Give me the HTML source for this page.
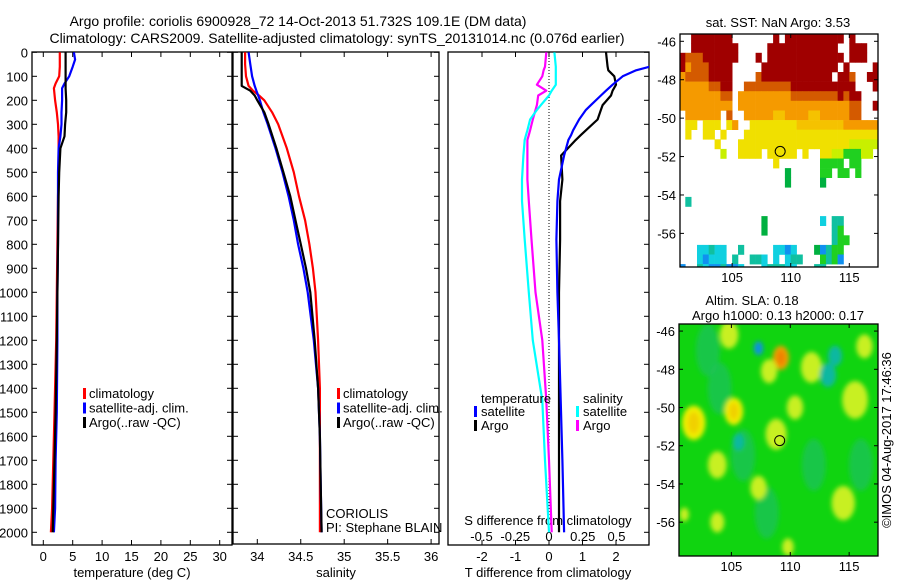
<!DOCTYPE html>
<html><head><meta charset="utf-8"><style>
body{margin:0;background:#fff}
svg{display:block;font-family:"Liberation Sans",sans-serif}
text{fill:#000}
</style></head><body>
<svg id="c" width="900" height="580" xmlns="http://www.w3.org/2000/svg">
<defs>
<clipPath id="cp1"><rect x="32" y="52" width="200" height="493"/></clipPath>
<clipPath id="cp2"><rect x="233" y="52" width="206" height="492"/></clipPath>
<clipPath id="cp3"><rect x="448" y="52" width="201" height="493"/></clipPath>
<clipPath id="cm1"><rect x="680" y="34" width="198" height="233"/></clipPath>
<clipPath id="cm2"><rect x="679" y="324" width="199" height="232"/></clipPath>
<filter id="blur" x="-20%" y="-20%" width="140%" height="140%"><feGaussianBlur stdDeviation="2.5"/></filter>
</defs>
<g font-size="14" text-anchor="middle">
<text x="298" y="26">Argo profile: coriolis 6900928_72 14-Oct-2013 51.732S 109.1E (DM data)</text>
<text x="337" y="43">Climatology: CARS2009. Satellite-adjusted climatology: synTS_20131014.nc (0.076d earlier)</text>
</g>
<g id="layer"></g>
</svg>
<script>
// ---------- data ----------
const depthT = [0,30,60,100,130,150,200,250,300,350,400,500,600,800,1000,1200,1500,1700,1900,2000];
const tempClim = [2.8,2.8,2.8,2.7,2.1,1.8,2.0,2.3,2.5,2.6,2.6,2.6,2.5,2.4,2.3,2.2,1.9,1.7,1.5,1.3];
const tempArgo = [3.8,3.8,3.8,3.8,3.8,3.8,3.9,3.9,3.7,3.6,2.9,2.7,2.6,2.5,2.4,2.3,2.1,1.9,1.7,1.6];
const tempSat  = [5.2,5.4,5.0,4.4,3.6,3.2,3.2,3.1,3.1,2.9,2.6,2.5,2.5,2.5,2.4,2.4,2.3,2.1,2.0,1.8];

const depthS = [0,50,100,140,160,180,200,250,300,400,500,600,700,800,900,1000,1200,1400,1600,1800,2000];
const salClim = [33.86,33.86,33.87,33.9,33.95,34.02,34.08,34.17,34.24,34.34,34.42,34.48,34.55,34.6,34.64,34.67,34.7,34.72,34.72,34.72,34.72];
const salArgo = [33.82,33.82,33.82,33.82,33.92,33.97,34.0,34.08,34.13,34.22,34.3,34.38,34.44,34.5,34.56,34.61,34.66,34.7,34.72,34.73,34.74];
const salSat  = [33.9,33.92,33.94,33.97,33.99,34.01,34.03,34.07,34.12,34.21,34.29,34.36,34.42,34.47,34.53,34.58,34.65,34.7,34.72,34.73,34.74];

const depthD = [0,60,75,100,135,160,180,220,240,280,325,345,365,430,530,620,780,1000,1200,1450,1700,2000];
const dTSat  = [3.4,3.0,2.6,2.2,1.9,1.7,1.55,1.25,1.1,0.9,0.72,0.66,0.58,0.45,0.3,0.25,0.22,0.25,0.3,0.35,0.4,0.45];
const dTArgo = [1.7,1.75,1.77,1.95,2.0,1.9,1.85,1.6,1.55,1.45,1.1,0.95,0.8,0.36,0.4,0.33,0.33,0.3,0.3,0.3,0.3,0.3];
const dSSat  = [0.04,0.05,0.05,0.05,0.05,0.02,0.0,-0.06,-0.09,-0.14,-0.16,-0.17,-0.18,-0.19,-0.2,-0.2,-0.18,-0.15,-0.12,-0.05,-0.03,0.0];
const dSArgo = [-0.02,-0.03,-0.04,-0.05,-0.09,-0.02,-0.08,-0.09,-0.1,-0.12,-0.14,-0.15,-0.16,-0.16,-0.16,-0.15,-0.13,-0.1,-0.05,-0.02,0.0,0.02];

const depthTicks = [0,100,200,300,400,500,600,700,800,900,1000,1100,1200,1300,1400,1500,1600,1700,1800,1900,2000];
const tempTicks = [0,5,10,15,20,25,30];
const salTicks = ["34","34.5","35","35.5","36"];
const dTTicks = [-2,-1,0,1,2];
const dSTicks = ["-0.5","-0.25","0","0.25","0.5"];

const lonTicks = [105,110,115];
const latTicks = [-46,-48,-50,-52,-54,-56];
// SST grid: 0.5 deg cells from lon 100.5, lat -45.6 downward
const sstRows = [
"..RRRRRRR.......R.RRRRRRRRRR.R....",
"..RRRRRRRR.....RRRRRRRRRRRR..RRR..",
"RoooRRRRRR...R.RRRRRRRRRRRRR.RRR..",
"ROoooRRRR.....RRRRRRRRRRRRR.R....R",
"OooooRRRR....oRRRRRRRRRRRR.RRo..RR",
"OOOOOooRR..ooooooooRRRRRRRRRRR...R",
"OOOOOOOoo.OOOOOOOOOooooooooRoRR...",
"OOOOOOOOO.OOOOOOOOOOOOOOOOOOOoo..R",
".OOOOOO.o..OOOOOyyOOOOyyOOOOOoo...",
".YY.YYY.YO..YYYYYYYYyyyyyyyyOOOOOO",
".Y..YY.Y...YYYYYYYYYYYYYYYYYYYYYYY",
"......Y...YYYYYYYYYYYYYYYYYYYllllll",
".......l..YYYY.YYYYY.Y..YYllgggll.",
"................Y.......gggg.gg...",
"..................G.....gg.gg.g...",
"..................G.....G.........",
"..................................",
".t................................",
"..................................",
"..............G.........c.tt......",
"..............G...........tg......",
"..........................tgg.....",
"...cctcc..t.....ccbc...Gbtgg......",
"...cbccc.t..ttc.c.ctt...gtgb......",
"b..tcbbtbbc...ctttcc...tt........."
];
const sstColors = {R:"#a00000",o:"#d45a00",O:"#f59a00",y:"#f5c200",Y:"#f0e000",l:"#c8f000",g:"#20d020",G:"#00b040",c:"#10d0e0",b:"#1090f0",t:"#10c0a0"};
// SLA blobs: lon, lat, radius(deg), level
const slaLon = [104.8,101.8,105.2,109.2,108.2,111.8,116.3,115.5,103.8,108.8,114.5,103.8,101,110.4,113.2,107.3,107.3,113.8,105.6,109.8];
const slaLat = [-46.2,-50.8,-50.2,-47.4,-48.1,-47.9,-46.8,-49.6,-53.0,-51.4,-55.0,-56.0,-55.6,-50.0,-48.3,-54.2,-46.9,-47.3,-51.8,-57.3];
const slaR   = [0.8,1.0,0.8,0.7,0.7,0.9,0.7,1.1,0.8,0.9,1.0,0.6,0.4,0.7,0.7,0.7,0.4,0.6,0.5,0.5];
const slaLev = [1,2,2,3,1,1,1,1,1,1,1,1,1,1,-1,1,-2,-1,-1,1];

// ---------- helpers ----------
const NS="http://www.w3.org/2000/svg";
const L=document.getElementById('layer');
function mk(tag,attrs,parent){const e=document.createElementNS(NS,tag);for(const k in attrs)e.setAttribute(k,attrs[k]);(parent||L).appendChild(e);return e;}
function txt(x,y,s,anchor,size,parent){const t=mk('text',{x:x,y:y,'text-anchor':anchor||'middle','font-size':size||13},parent);t.textContent=s;return t;}
const yD=d=>52.3+d*0.24;
const xT=v=>43.3+v*5.88;
const xS=v=>257.3+(v-34)*86.9;
const xDT=v=>549+v*33.5;
const xDS=v=>549+v*135;

function frame(x0,y0,x1,y1,name){const r=mk('rect',{x:x0,y:y0,width:x1-x0,height:y1-y0,fill:'none',stroke:'#000','stroke-width':1.3});

}
function prof(ds,vs,xf,color,w,clip,name){
 let d='';for(let i=0;i<ds.length;i++){d+=(i?'L':'M')+xf(vs[i]).toFixed(1)+','+yD(ds[i]).toFixed(1);}
 const p=mk('path',{d:d,fill:'none',stroke:color,'stroke-width':w,'clip-path':'url(#'+clip+')','stroke-linejoin':'round'});
 
 }

// ---------- panel 1 ----------
frame(32,52,232,545,'temperature-axes');
depthTicks.forEach(d=>{const y=yD(d);mk('line',{x1:32,y1:y,x2:37,y2:y,stroke:'#000'});mk('line',{x1:227,y1:y,x2:232,y2:y,stroke:'#000'});
 const t=txt(28,y+5,String(d),'end',13);
 
 });
tempTicks.forEach(v=>{const x=xT(v);mk('line',{x1:x,y1:545,x2:x,y2:540,stroke:'#000'});mk('line',{x1:x,y1:52,x2:x,y2:57,stroke:'#000'});
 const t=txt(x,561,String(v));
 
 });
{const t=txt(132,577,'temperature (deg C)');}
prof(depthT,tempClim,xT,'#ff0000',2.2,'cp1','temp-climatology-line');
prof(depthT,tempSat,xT,'#0000ff',2.2,'cp1','temp-satellite-line');
prof(depthT,tempArgo,xT,'#000000',2.2,'cp1','temp-argo-line');
function legend3(x,y0,name){
 const g=mk('g',{});
 [['#ff0000','climatology'],['#0000ff','satellite-adj. clim.'],['#000000','Argo(..raw -QC)']].forEach((e,i)=>{
  mk('rect',{x:x,y:y0+i*14.5-11,width:3,height:11,fill:e[0]},g);
  txt(x+6,y0+i*14.5-1,e[1],'start',13,g);});}
legend3(83,399,'temperature-legend');

// ---------- panel 2 ----------
frame(233,52,439,544,'salinity-axes');
depthTicks.forEach(d=>{const y=yD(d);mk('line',{x1:233,y1:y,x2:238,y2:y,stroke:'#000'});mk('line',{x1:434,y1:y,x2:439,y2:y,stroke:'#000'});});
salTicks.forEach(s=>{const x=xS(parseFloat(s));mk('line',{x1:x,y1:544,x2:x,y2:539,stroke:'#000'});mk('line',{x1:x,y1:52,x2:x,y2:57,stroke:'#000'});
 const t=txt(x,561,s);});
{const t=txt(336,577,'salinity');}
prof(depthS,salClim,xS,'#ff0000',2.2,'cp2','sal-climatology-line');
prof(depthS,salSat,xS,'#0000ff',2.2,'cp2','sal-satellite-line');
prof(depthS,salArgo,xS,'#000000',2.2,'cp2','sal-argo-line');
legend3(337,399,'salinity-legend');
{const t=txt(326,518,'CORIOLIS','start');
 const u=txt(326,532,'PI: Stephane BLAIN','start');}

// ---------- panel 3 ----------
frame(448,52,649,545,'difference-axes');
depthTicks.forEach(d=>{const y=yD(d);mk('line',{x1:644,y1:y,x2:649,y2:y,stroke:'#000'});});
mk('line',{x1:549,y1:52,x2:549,y2:520,stroke:'#000','stroke-dasharray':'1,2'});
dTTicks.forEach(v=>{const x=xDT(v);mk('line',{x1:x,y1:545,x2:x,y2:540,stroke:'#000'});mk('line',{x1:x,y1:52,x2:x,y2:57,stroke:'#000'});
 const t=txt(x,561,String(v));});
dSTicks.forEach(s=>{const t=txt(xDS(parseFloat(s)),541,s);});
{const t=txt(548,525,'S difference from climatology');
 const u=txt(548,577,'T difference from climatology');}
prof(depthD,dSArgo,xDS,'#ff00ff',2.2,'cp3','s-diff-argo-line');
prof(depthD,dSSat,xDS,'#00ffff',2.2,'cp3','s-diff-satellite-line');
prof(depthD,dTArgo,xDT,'#000000',2.2,'cp3','t-diff-argo-line');
prof(depthD,dTSat,xDT,'#0000ff',2.2,'cp3','t-diff-satellite-line');
{const g=mk('g',{});
 txt(481,403,'temperature','start',13,g);txt(583,403,'salinity','start',13,g);
 [['#0000ff','satellite',474,417],['#000000','Argo',474,431],['#00ffff','satellite',576,417],['#ff00ff','Argo',576,431]].forEach(e=>{
  mk('rect',{x:e[2],y:e[3]-11,width:3,height:11,fill:e[0]},g);txt(e[2]+7,e[3]-1,e[1],'start',13,g);});}

// ---------- map helpers ----------
function mapAxes(x0,y0,x1,y1,lon0,lon1,lat0,lat1,name){
 const fx=l=>x0+(l-lon0)/(lon1-lon0)*(x1-x0), fy=l=>y0+(lat0-l)/(lat0-lat1)*(y1-y0);
 return {fx,fy,draw(){
  frame(x0,y0,x1,y1,name);
  latTicks.forEach(v=>{const y=fy(v);mk('line',{x1:x0,y1:y,x2:x0+4,y2:y,stroke:'#000'});mk('line',{x1:x1-4,y1:y,x2:x1,y2:y,stroke:'#000'});
   const t=txt(x0-4,y+5,String(v),'end');});
  lonTicks.forEach(v=>{const x=fx(v);mk('line',{x1:x,y1:y1,x2:x,y2:y1-4,stroke:'#000'});mk('line',{x1:x,y1:y0,x2:x,y2:y0+4,stroke:'#000'});
   const t=txt(x,y1+15,String(v));});
 }};}

// ---------- SST map ----------
const m1=mapAxes(680,34,878,267,100.55,117.45,-45.62,-57.75,'sst-map-frame');
{const g=mk('g',{'clip-path':'url(#cm1)'});
 sstRows.forEach((row,r)=>{for(let c=0;c<row.length;c++){const ch=row[c];if(ch==='.')continue;
  const lonA=100.5+c*0.5,latA=-45.6-r*0.5;const x=m1.fx(lonA),y=m1.fy(latA);
  const cell=mk('rect',{x:x.toFixed(1),y:y.toFixed(1),width:(m1.fx(lonA+0.5)-x+0.3).toFixed(1),height:(m1.fy(latA-0.5)-y+0.3).toFixed(1),fill:sstColors[ch]},g);
  
  }});}
m1.draw();
mk('circle',{cx:m1.fx(109.1),cy:m1.fy(-51.732),r:5,fill:'#f0e000',stroke:'#000','stroke-width':1});
{const t=txt(778,27,'sat. SST: NaN Argo: 3.53');}

// ---------- SLA map ----------
const m2=mapAxes(679,324,878,556,100.55,117.45,-45.63,-57.77,'sla-map-frame');
{const g=mk('g',{'clip-path':'url(#cm2)'});
 mk('rect',{x:679,y:324,width:199,height:232,fill:'#10d410'},g);
 const bl=mk('g',{filter:'url(#blur)'},g);
 const levCol={'-2':'#1090e0','-1':'#10b8a0','1':'#c8f020','2':'#f0f000','3':'#f0a000'};
 [[104,-49],[106,-52.5],[112,-53],[116,-53],[108,-55.5],[103,-47]].forEach(p=>mk('ellipse',{cx:m2.fx(p[0]),cy:m2.fy(p[1]),rx:12,ry:26,fill:'#20c060',opacity:0.7},bl));
 for(let i=0;i<slaLon.length;i++){
  const e=mk('ellipse',{cx:m2.fx(slaLon[i]),cy:m2.fy(slaLat[i]),rx:slaR[i]*11.7,ry:slaR[i]*19.1*0.9,fill:levCol[String(slaLev[i])]},bl);
  
  
  if(slaLev[i]>=2){mk('ellipse',{cx:m2.fx(slaLon[i]),cy:m2.fy(slaLat[i]),rx:slaR[i]*6,ry:slaR[i]*11,fill:slaLev[i]==3?'#f08000':'#f0d000'},bl);}
 }}
m2.draw();
mk('circle',{cx:m2.fx(109.1),cy:m2.fy(-51.732),r:5,fill:'none',stroke:'#000','stroke-width':1});
{const t=txt(752,305,'Altim. SLA: 0.18');
 const u=txt(778,320,'Argo h1000: 0.13 h2000: 0.17');}
{const t=txt(0,0,'©IMOS 04-Aug-2017 17:46:36','middle',13);t.setAttribute('transform','translate(891,440) rotate(-90)');
 }
</script>
</body></html>
